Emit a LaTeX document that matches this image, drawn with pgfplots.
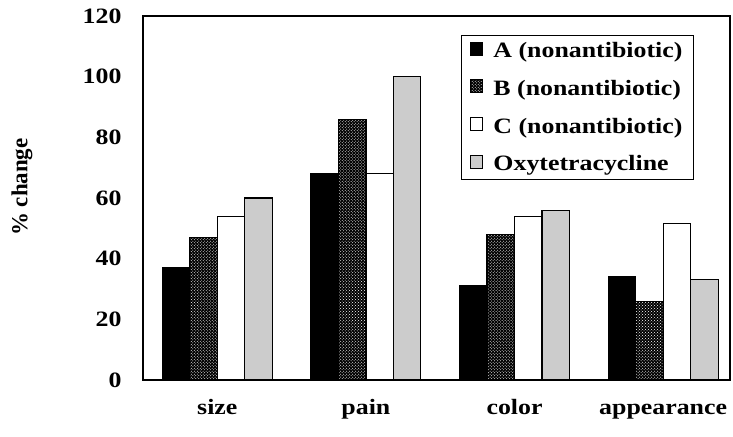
\documentclass[border=0pt]{standalone}
\usepackage{fontspec}
\setmainfont{Liberation Serif}[FakeStretch=1.18]
\newfontfamily\plainserif{Liberation Serif}
\usepackage{pgfplots}
\pgfplotsset{compat=1.18}
\usetikzlibrary{patterns}
\newcommand{\bigf}{\bfseries\fontsize{22}{26}\selectfont}
\begin{document}
\begin{tikzpicture}
\useasboundingbox (-143bp,-57bp) rectangle (590bp,380bp);
\begin{axis}[
  at={(0,0)}, anchor=south west,
  scale only axis, width=587bp, height=364bp,
  xmin=-0.5, xmax=3.45, ymin=0, ymax=120,
  xtick={0,1,2,3}, xticklabels={size,pain,color,appearance},
  ytick={0,20,...,120},
  major tick length=0pt,
  axis line style={line width=1.6bp},
  /pgf/number format/assume math mode=true,
  ticklabel style={font=\bigf},
  yticklabel style={xshift=-18bp},
  xticklabel style={yshift=-16bp, text height=15bp, text depth=5bp},
  ylabel={\% change},
  ylabel style={font=\plainserif\bfseries\fontsize{23}{27}\selectfont, at={(axis description cs:-0.206,0.53)}, anchor=center, rotate=0},
  legend cell align=left,
  legend style={at={(0.9387,0.948)}, anchor=north east, draw=black, line width=1.2bp,
    font=\bigf, inner xsep=9bp, inner ysep=5bp, row sep=17bp},
  legend image code/.code={\draw[#1, line width=0.6bp] (0bp,-4bp) rectangle (12bp,9bp);
    \pgfpathmoveto{\pgfqpoint{21bp}{0bp}}\pgfusepath{discard}},
]
\addplot[ybar, bar width=0.185, bar shift=-0.2775, fill=black, draw=black, line width=1.2bp]
  coordinates {(0,37) (1,68) (2,31) (3,34)};
\addplot[ybar, bar width=0.185, bar shift=-0.0925, fill=black, draw=black, line width=1.2bp,
  postaction={pattern=crosshatch dots, pattern color=white}]
  coordinates {(0,47) (1,86) (2,48) (3,26)};
\addplot[ybar, bar width=0.185, bar shift=0.0925, fill=white, draw=black, line width=1.2bp]
  coordinates {(0,54) (1,68) (2,54) (3,51.5)};
\addplot[ybar, bar width=0.185, bar shift=0.2775, fill=black!20, draw=black, line width=1.2bp]
  coordinates {(0,60) (1,100) (2,56) (3,33)};
\legend{A (nonantibiotic), B (nonantibiotic), C (nonantibiotic), Oxytetracycline}
\end{axis}
\end{tikzpicture}
\end{document}
